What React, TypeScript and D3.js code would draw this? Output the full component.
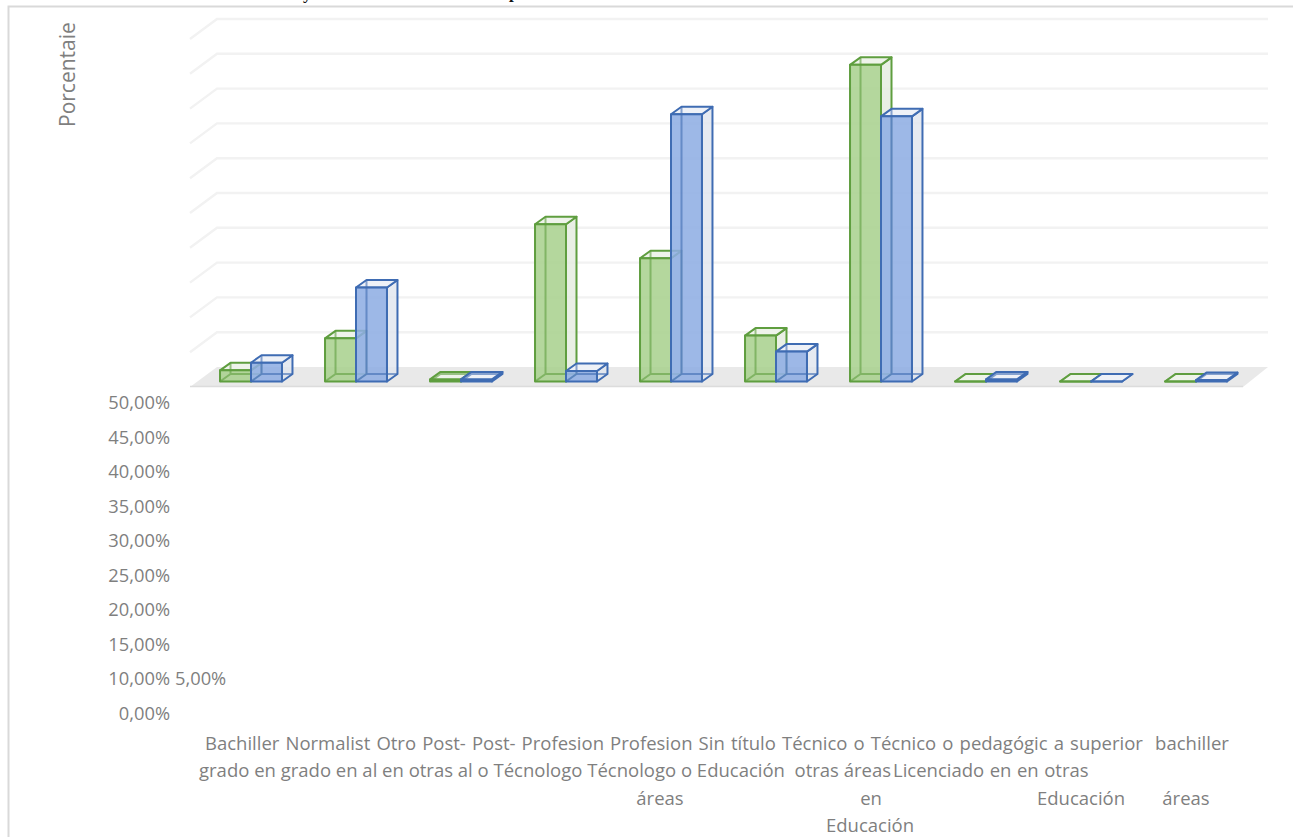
import React from "react";
import * as d3 from "d3";

// Education levels along the floor of the 3D column chart
const categories = [
  "Bachiller grado en",
  "Normalista grado en",
  "Otro",
  "Post-grado en Educación",
  "Post-grado en otras áreas",
  "Profesional en Educación",
  "Profesional en otras áreas",
  "Sin título",
  "Técnico o Técnologo en Educación",
  "Técnico o Técnologo en otras áreas",
];

const seriesNames = ["Docentes", "Directivos"];
const greenValues = [1.6, 6.2, 0.3, 22.6, 17.7, 6.6, 45.5, 0, 0, 0];
const blueValues = [2.7, 13.5, 0.3, 1.5, 38.4, 4.3, 38.1, 0.3, 0, 0.2];

// The 5% label shares a row with the 10% label, so only ten rows are used
const percentTicks = [0, 10, 15, 20, 25, 30, 35, 40, 45, 50];
const gridTicks = [5, 10, 15, 20, 25, 30, 35, 40, 45, 50];

// Wrapped axis text, one row per text line
const labelRows = [
  "Bachiller Normalist Otro Post- Post- Profesion Profesion Sin título Técnico o Técnico o pedagógic a superior  bachiller",
  "grado en grado en al en otras al o Técnologo Técnologo o Educación  otras áreas",
  "Licenciado en en otras",
];
const looseLabels = [
  { text: "áreas", row: 2, col: 660 },
  { text: "en", row: 2, col: 871 },
  { text: "Educación", row: 2, col: 1081 },
  { text: "áreas", row: 2, col: 1186 },
  { text: "Educación", row: 3, col: 870 },
];

const W = 1293;
const H = 837;
const DEPTH_X = 10.5;
const DEPTH_Y = -7.5;
const FONT = "'Open Sans', sans-serif";
const TEXT = "#7f7f7f";

const palette = [
  { front: "#a9d18e", side: "#e4ebdf", top: "#eef3ea", line: "#5f9e3f" },
  { front: "#8eade3", side: "#e0e5ee", top: "#eef1f7", line: "#3f6cb3" },
];

const x0 = d3
  .scaleBand<string>()
  .domain(categories)
  .range([198.5, 1248.5])
  .paddingInner(0.41)
  .paddingOuter(0.205);
const x1 = d3.scaleBand<number>().domain([0, 1]).range([0, x0.bandwidth()]);
const yBar = d3.scaleLinear().domain([0, 50]).range([381.5, 33.5]);
const yBack = d3.scaleLinear().domain([0, 50]).range([367, 19]);
const yTick = d3.scaleLinear().domain([5, 50]).range([714, 403]);
const rowY = d3.scaleLinear().domain([0, 3]).range([750, 832]);

const poly = (pts: [number, number][]) => d3.line()(pts) + "Z";

function Column({ x, w, value, c }: { x: number; w: number; value: number; c: (typeof palette)[number] }) {
  const b = yBar(0);
  const t = yBar(value);
  const r = x + w;
  const dx = DEPTH_X;
  const dy = DEPTH_Y;
  return (
    <g stroke={c.line} strokeWidth={2} strokeLinejoin="round">
      <path d={poly([[r, b], [r + dx, b + dy], [r + dx, t + dy], [r, t]])} fill={c.side} fillOpacity={0.8} />
      <path d={poly([[x, t], [r, t], [r + dx, t + dy], [x + dx, t + dy]])} fill={c.top} />
      <path d={poly([[x, b], [r, b], [r, t], [x, t]])} fill={c.front} fillOpacity={0.87} />
      {/* rear edges seen through the translucent front face */}
      <path
        d={`M${x},${b}L${x + dx},${b + dy}V${t + dy}M${x + dx},${b + dy}H${r + dx}`}
        fill="none"
        strokeOpacity={0.6}
      />
    </g>
  );
}

export default function App() {
  const gridColor = "#f2f2f2";
  const left = 217;
  const right = 1268;
  const series = [greenValues, blueValues];
  const rowStart = [205, 199, 893];
  const rowLine = [0, 1, 1];
  const rowSpacing = [1.3, 0, 0.7];
  return (
    <svg
      width={W}
      height={H}
      viewBox={`0 0 ${W} ${H}`}
      style={{ position: "absolute", left: 0, top: 0, background: "#fff" }}
    >
      {/* tails of the caption above the chart frame */}
      <g fontFamily="'Liberation Serif', serif" fontSize={17} fontWeight={700} fill="#111">
        <text x={303} y={-1}>y</text>
        <text x={509} y={-2}>p</text>
      </g>

      <path d={`M${W},6.5H8.5V${H}`} fill="none" stroke="#d9d9d9" strokeWidth={2} />

      {gridTicks.map((t) => (
        <path
          key={t}
          d={`M190,${yBack(t) + 20}L${left},${yBack(t)}H${right}`}
          fill="none"
          stroke={gridColor}
          strokeWidth={2.4}
        />
      ))}

      <path d={poly([[190, 387], [1243, 387], [1268, yBack(0)], [left, yBack(0)]])} fill="#e9e9e9" />
      <path d="M190,386.5H1243" stroke="#dcdcdc" strokeWidth={1.5} />

      {categories.map((cat, i) => (
        <g key={cat}>
          {seriesNames.map((name, s) => (
            <Column
              key={name}
              x={(x0(cat) as number) + (x1(s) as number)}
              w={x1.bandwidth()}
              value={series[s][i]}
              c={palette[s]}
            />
          ))}
        </g>
      ))}

      <g fontFamily={FONT} fontSize={18.3} fill={TEXT}>
        {percentTicks.map((t) => (
          <text key={t} x={170} y={yTick(t === 0 ? 5 : t) + 6} textAnchor="end">
            {`${t},00%`}
          </text>
        ))}
        <text x={175} y={yTick(10) + 6}>5,00%</text>
      </g>

      <text transform="translate(75,127) rotate(-90)" fontFamily={FONT} fontSize={21} fill={TEXT}>
        Porcentaie
      </text>

      <g fontFamily={FONT} fontSize={18.5} fill={TEXT}>
        {labelRows.map((row, i) => (
          <text
            key={i}
            x={rowStart[i]}
            y={rowY(rowLine[i])}
            wordSpacing={rowSpacing[i]}
            style={{ whiteSpace: "pre" }}
          >
            {row}
          </text>
        ))}
        {looseLabels.map((l, i) => (
          <text key={i} x={l.col} y={rowY(l.row)} textAnchor="middle">
            {l.text}
          </text>
        ))}
      </g>
    </svg>
  );
}
